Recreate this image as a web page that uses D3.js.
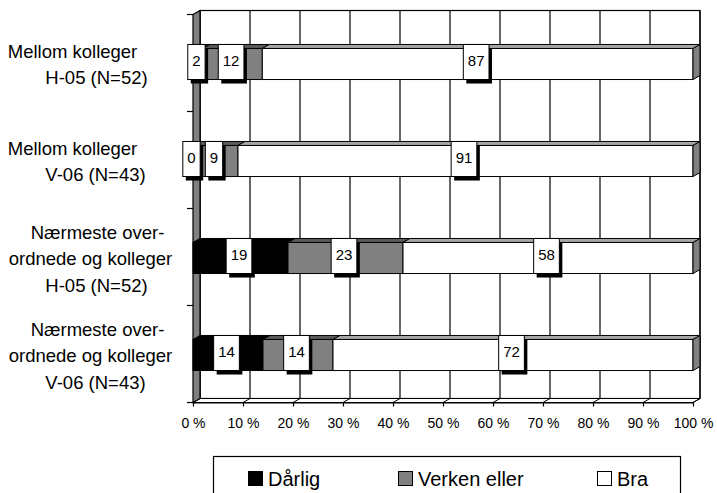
<!DOCTYPE html>
<html>
<head>
<meta charset="utf-8">
<script src="https://cdn.jsdelivr.net/npm/d3@7"></script>
<style>
  html, body { margin: 0; padding: 0; background: #fff; }
  svg { display: block; font-family: Arial, "Liberation Sans", sans-serif; }
</style>
</head>
<body>
<svg id="chart" width="717" height="493"></svg>
<script>
// ---------- data ----------
const categories = [
  ["Mellom kolleger", "H-05 (N=52)"],
  ["Mellom kolleger", "V-06 (N=43)"],
  ["Nærmeste over-", "ordnede og kolleger", "H-05 (N=52)"],
  ["Nærmeste over-", "ordnede og kolleger", "V-06 (N=43)"]
];
const seriesNames = ["Dårlig", "Verken eller", "Bra"];
const darlig = [2, 0, 19, 14];
const verken = [12, 9, 23, 14];
const bra    = [87, 91, 58, 72];
const tickValues = [0, 0.1, 0.2, 0.3, 0.4, 0.5, 0.6, 0.7, 0.8, 0.9, 1.0];
const tickLabels = ["0 %", "10 %", "20 %", "30 %", "40 %", "50 %", "60 %", "70 %", "80 %", "90 %", "100 %"];

// ---------- layout ----------
const svg = d3.select("#chart");
const frontLeft = 193, frontRight = 693, frontTop = 14.5, frontBottom = 402.5;
const DX = 7, DY = -4;                 // 3D depth offset
const colors = ["#000000", "#808080", "#ffffff"];
const topColors = ["#000000", "#5a5a5a", "#a6a6a6"];

const rows = categories.map((c, i) => ({
  key: i, "Dårlig": darlig[i], "Verken eller": verken[i], "Bra": bra[i],
  raw: [darlig[i], verken[i], bra[i]]
}));

const x = d3.scaleLinear().domain([0, 1]).range([frontLeft, frontRight]);
const y = d3.scaleBand().domain(d3.range(categories.length))
  .range([frontTop, frontBottom]).paddingInner(0.68).paddingOuter(0.34);
const step = y.step();

const stack = d3.stack().keys(seriesNames).offset(d3.stackOffsetExpand);
const stacked = stack(rows);

const g = svg.append("g");

// back wall
g.append("rect")
  .attr("x", frontLeft + DX).attr("y", frontTop + DY)
  .attr("width", frontRight - frontLeft).attr("height", frontBottom - frontTop)
  .attr("fill", "#fff").attr("stroke", "#000").attr("stroke-width", 1.2);

// floor
g.append("polygon")
  .attr("points", [[frontLeft, frontBottom], [frontLeft + DX, frontBottom + DY],
                   [frontRight + DX, frontBottom + DY], [frontRight, frontBottom]].join(" "))
  .attr("fill", "#fff").attr("stroke", "#000").attr("stroke-width", 1);

// vertical gridlines on back wall + floor
tickValues.forEach(v => {
  const xv = x(v);
  g.append("line").attr("x1", xv + DX).attr("x2", xv + DX)
    .attr("y1", frontTop + DY).attr("y2", frontBottom + DY)
    .attr("stroke", "#000").attr("stroke-width", 1.2);
  g.append("line").attr("x1", xv + DX).attr("x2", xv)
    .attr("y1", frontBottom + DY).attr("y2", frontBottom)
    .attr("stroke", "#000").attr("stroke-width", 1);
});

// left wall
g.append("polygon")
  .attr("points", [[frontLeft, frontTop], [frontLeft + DX, frontTop + DY],
                   [frontLeft + DX, frontBottom + DY], [frontLeft, frontBottom]].join(" "))
  .attr("fill", "#808080").attr("stroke", "#000").attr("stroke-width", 1.2);

// category axis ticks (left)
const catTicks = d3.range(categories.length + 1).map(i => frontTop + i * step);
catTicks.forEach(t => {
  g.append("line").attr("x1", frontLeft - 6).attr("x2", frontLeft)
    .attr("y1", t).attr("y2", t).attr("stroke", "#000").attr("stroke-width", 1.2);
});

// value axis (bottom)
const xAxis = d3.axisBottom(x).tickValues(tickValues)
  .tickFormat((d, i) => tickLabels[i]).tickSizeOuter(0).tickSizeInner(4).tickPadding(12);
const ax = svg.append("g").attr("transform", `translate(0,${frontBottom})`).call(xAxis);
ax.select(".domain").attr("stroke", "#000").attr("stroke-width", 1.2);
ax.selectAll(".tick line").attr("stroke", "#000").attr("stroke-width", 1.2);
ax.selectAll(".tick text").attr("font-size", 14).attr("fill", "#000")
  .attr("font-family", "Arial, 'Liberation Sans', sans-serif");

// bars
const barG = svg.append("g").attr("transform", "translate(0,1)");
const bw = y.bandwidth();
stacked.forEach((layer, si) => {
  layer.forEach((d, ci) => {
    const x0 = x(d[0]), x1 = x(d[1]);
    const yt = y(ci), yb = y(ci) + bw;
    if (x1 - x0 <= 0) return;
    // top face
    barG.append("polygon")
      .attr("points", [[x0, yt], [x0 + DX, yt + DY], [x1 + DX, yt + DY], [x1, yt]].join(" "))
      .attr("fill", topColors[si]).attr("stroke", "#000").attr("stroke-width", 1);
    // front face
    barG.append("rect").attr("x", x0).attr("y", yt).attr("width", x1 - x0).attr("height", bw)
      .attr("fill", colors[si]).attr("stroke", "#000").attr("stroke-width", 1);
    // right end face of last segment
    if (si === stacked.length - 1) {
      barG.append("polygon")
        .attr("points", [[x1, yt], [x1 + DX, yt + DY], [x1 + DX, yb + DY], [x1, yb]].join(" "))
        .attr("fill", "#808080").attr("stroke", "#000").attr("stroke-width", 1);
    }
  });
});

// data labels
const labG = svg.append("g").attr("transform", "translate(0,1)");
stacked.forEach((layer, si) => {
  layer.forEach((d, ci) => {
    const val = rows[ci].raw[si];
    const txt = String(val);
    const cx = (x(d[0]) + x(d[1])) / 2 - 1.5;
    const w = txt.length * 8.34 + 9;
    const top = y(ci) + DY, bot = y(ci) + bw;
    labG.append("rect").attr("x", cx - w / 2 + 3).attr("y", top + 4)
      .attr("width", w).attr("height", bot - top).attr("fill", "#000");
    labG.append("rect").attr("x", cx - w / 2).attr("y", top)
      .attr("width", w).attr("height", bot - top)
      .attr("fill", "#fff").attr("stroke", "#000").attr("stroke-width", 1);
    labG.append("text").attr("x", cx).attr("y", (top + bot) / 2 + 4)
      .attr("text-anchor", "middle").attr("font-size", 15).attr("fill", "#000").text(txt);
  });
});

// category labels
const lineCenters = {
  "Mellom kolleger": 72.5, "H-05 (N=52)": 96.5, "V-06 (N=43)": 95.5,
  "Nærmeste over-": 97.5, "ordnede og kolleger": 90.5
};
categories.forEach((lines, ci) => {
  const c = y(ci) + bw / 2 + 1.5;
  const n = lines.length;
  lines.forEach((ln, li) => {
    svg.append("text")
      .attr("x", lineCenters[ln] !== undefined ? lineCenters[ln] : 96)
      .attr("y", c + 6.5 + (li - (n - 1) / 2) * 26.5)
      .attr("text-anchor", "middle").attr("font-size", 18.5).attr("fill", "#000")
      .text(ln);
  });
});

// legend
const leg = svg.append("g");
leg.append("rect").attr("x", 213.5).attr("y", 456.5).attr("width", 467).attr("height", 60)
  .attr("fill", "#fff").attr("stroke", "#000").attr("stroke-width", 1.2);
const legX = [248, 398, 597];
const legTextDx = [20, 20, 20];
seriesNames.forEach((s, i) => {
  leg.append("rect").attr("x", legX[i] + 0.5).attr("y", 471.5).attr("width", 14).attr("height", 14)
    .attr("fill", colors[i]).attr("stroke", "#000").attr("stroke-width", 1);
  leg.append("text").attr("x", legX[i] + legTextDx[i]).attr("y", 486)
    .attr("font-size", 20).attr("fill", "#000").text(s);
});
</script>
</body>
</html>
